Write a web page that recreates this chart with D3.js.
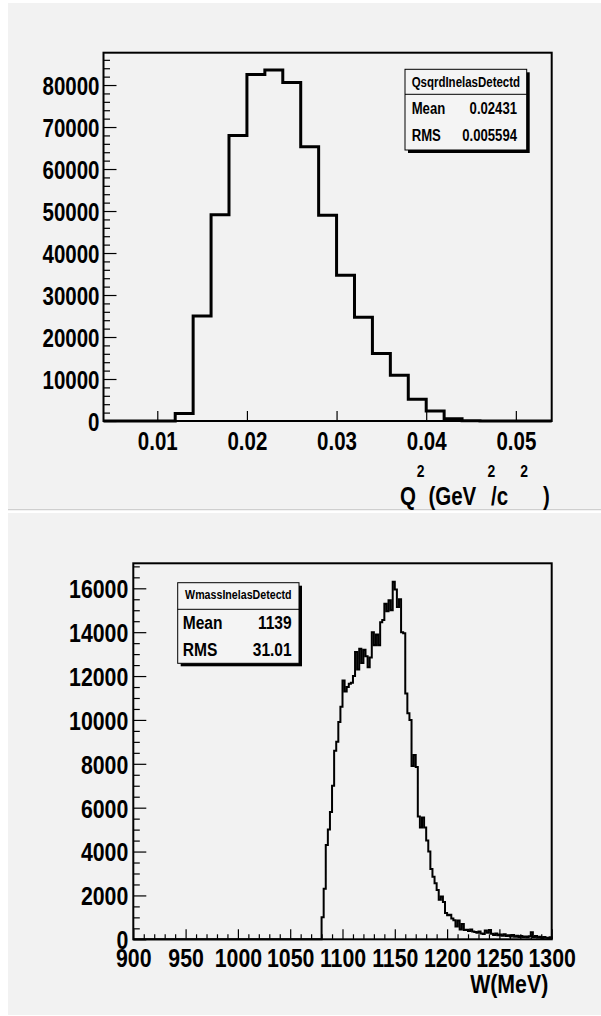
<!DOCTYPE html>
<html>
<head>
<meta charset="utf-8">
<script src="https://cdn.jsdelivr.net/npm/d3@7"></script>
<style>
  html, body { margin: 0; padding: 0; background: #ffffff; }
  svg { display: block; }
  text { font-family: "Liberation Sans", Arial, Helvetica, sans-serif; font-weight: bold; fill: #000; }
</style>
</head>
<body>
<svg id="canvas" width="601" height="1016"></svg>
<script>
// ---------- Q^2 of detected inelastic events (25 bins over the range) ----------
const qsqRange = [0.004, 0.054];
const qsqCounts = [0, 0, 0, 0, 1800, 25000, 49100, 68000, 82500, 83600, 80600, 65300,
                   49000, 34700, 24700, 16100, 10900, 5200, 2400, 560, 80, 0, 0, 0, 0];
const qsqXTicks = [0.01, 0.02, 0.03, 0.04, 0.05];
const qsqYTicks = [0, 10000, 20000, 30000, 40000, 50000, 60000, 70000, 80000];
const qsqYMax = 87700;
const qsqStatLabels = ["Mean", "RMS"];
const qsqStatValues = ["0.02431", "0.005594"];

// ---------- invariant mass W of detected inelastic events (2 MeV bins) ----------
const wRange = [900, 1300];
const wBinWidth = 2;
const wFirstBin = 1080;   // bins below this edge are empty
const wCounts = [
  1000, 2300, 4300, 5000, 5800, 7000, 8600, 9000, 9900, 10600,
  11800, 11300, 11500, 11650, 11700, 12000, 13100, 12300, 13250, 12600,
  13200, 12900, 12400, 12850, 14000, 13400, 13900, 13400, 14450, 14550,
  15300, 14950, 15450, 15000, 16300, 15950, 15150, 15500, 14000, 13950,
  11200, 10300, 10000, 7900, 8400, 7850, 5600, 5100, 5550, 5100,
  4500, 4000, 3200, 2850, 2550, 2250, 1800, 1950, 1700, 1200,
  1100, 1120, 950, 870, 580, 860, 450, 700, 420, 430,
  380, 450, 350, 330, 300, 350, 260, 240, 400, 300,
  420, 250, 200, 270, 190, 220, 160, 230, 150, 180,
  130, 200, 120, 160, 110, 150, 100, 130, 90, 140,
  320, 110, 150, 80, 120, 60, 110, 70, 50, 90
];
const wXTicks = [900, 950, 1000, 1050, 1100, 1150, 1200, 1250, 1300];
const wYTicks = [0, 2000, 4000, 6000, 8000, 10000, 12000, 14000, 16000];
const wYMax = 17140;
const wStatLabels = ["Mean", "RMS"];
const wStatValues = ["1139", "31.01"];

const svg = d3.select("#canvas");
const SX = 0.82;   // narrow bold face

// pad backgrounds
svg.append("rect").attr("x", 8).attr("y", 3).attr("width", 593).attr("height", 505).attr("fill", "#f2f2f2");
svg.append("line").attr("x1", 8).attr("x2", 601).attr("y1", 509.5).attr("y2", 509.5).attr("stroke", "#cfcfcf").attr("stroke-width", 1.5);
svg.append("rect").attr("x", 8).attr("y", 513).attr("width", 593).attr("height", 502).attr("fill", "#f2f2f2");

function label(g, x, y, str, size, anchor, sx) {
  return g.append("text")
    .attr("transform", `translate(${x},${y}) scale(${sx || SX},1)`)
    .attr("text-anchor", anchor || "start")
    .style("font-size", size + "px")
    .text(str);
}

function drawPanel(p) {
  const g = svg.append("g");
  const x = d3.scaleLinear().domain(p.xDomain).range([p.frame.x0, p.frame.x1]);
  const y = d3.scaleLinear().domain([0, p.yMax]).range([p.frame.y1, p.frame.y0]);

  // minor ticks (unlabelled)
  if (p.yMinor.length) {
    g.append("g").attr("transform", `translate(${p.frame.x0},0)`)
      .call(d3.axisLeft(y).tickValues(p.yMinor).tickSize(-6.5).tickFormat(""))
      .call(a => a.select(".domain").remove())
      .selectAll("line").attr("stroke", "#000").attr("stroke-width", 1.2);
  }
  if (p.xMinor.length) {
    g.append("g").attr("transform", `translate(0,${p.frame.y1})`)
      .call(d3.axisBottom(x).tickValues(p.xMinor).tickSize(-5).tickFormat(""))
      .call(a => a.select(".domain").remove())
      .selectAll("line").attr("stroke", "#000").attr("stroke-width", 1.2);
  }

  // major y ticks + labels
  const ya = g.append("g").attr("transform", `translate(${p.frame.x0},0)`)
    .call(d3.axisLeft(y).tickValues(p.yTicks).tickSize(-13).tickPadding(0).tickFormat(d3.format("d")));
  ya.select(".domain").remove();
  ya.selectAll(".tick line").attr("stroke", "#000").attr("stroke-width", 1.2);
  ya.selectAll(".tick text")
    .attr("x", null).attr("dy", null).attr("fill", "#000")
    .attr("text-anchor", "end")
    .attr("transform", `translate(${-p.yLabelGap},${p.labelSize * 0.36}) scale(${SX},1)`)
    .style("font-size", p.labelSize + "px");

  // major x ticks + labels
  const xa = g.append("g").attr("transform", `translate(0,${p.frame.y1})`)
    .call(d3.axisBottom(x).tickValues(p.xTicks).tickSize(-10).tickPadding(0).tickFormat(p.xFormat));
  xa.select(".domain").remove();
  xa.selectAll(".tick line").attr("stroke", "#000").attr("stroke-width", 1.2);
  xa.selectAll(".tick text")
    .attr("y", null).attr("dy", null).attr("fill", "#000")
    .attr("text-anchor", "middle")
    .attr("transform", `translate(0,${p.xLabelBase}) scale(${SX},1)`)
    .style("font-size", p.labelSize + "px");

  // frame
  g.append("rect")
    .attr("x", p.frame.x0).attr("y", p.frame.y0)
    .attr("width", p.frame.x1 - p.frame.x0).attr("height", p.frame.y1 - p.frame.y0)
    .attr("fill", "none").attr("stroke", "#000").attr("stroke-width", 2);

  // histogram outline: empty range along the baseline, then one step per bin
  const pts = [[p.xDomain[0], 0], [p.firstEdge, 0]];
  p.counts.forEach((c, i) => {
    const lo = p.firstEdge + i * p.binWidth;
    pts.push([lo, c], [lo + p.binWidth, c]);
  });
  pts.push([p.firstEdge + p.counts.length * p.binWidth, 0], [p.xDomain[1], 0]);
  g.append("path")
    .datum(pts)
    .attr("d", d3.line().x(d => x(d[0])).y(d => y(d[1])))
    .attr("fill", "none").attr("stroke", "#000")
    .attr("stroke-width", p.lineWidth).attr("stroke-linejoin", "miter");

  // statistics box
  const b = p.box;
  g.append("rect").attr("x", b.x0 + 3).attr("y", b.y0 + 3)
    .attr("width", b.x1 - b.x0).attr("height", b.y1 - b.y0).attr("fill", "#000");
  g.append("rect").attr("x", b.x0).attr("y", b.y0)
    .attr("width", b.x1 - b.x0).attr("height", b.y1 - b.y0)
    .attr("fill", "#f4f4f4").attr("stroke", "#000").attr("stroke-width", 1);
  g.append("line").attr("x1", b.x0).attr("x2", b.x1).attr("y1", b.div).attr("y2", b.div)
    .attr("stroke", "#000").attr("stroke-width", 1);
  label(g, (b.x0 + b.x1) / 2, b.titleBase, p.name, b.titleSize, "middle");
  p.statLabels.forEach((s, i) => {
    label(g, b.x0 + b.padL, b.rowBase[i], s, b.rowSize, "start");
    label(g, b.x1 - b.padR, b.rowBase[i], p.statValues[i], b.rowSize, "end");
  });
  return g;
}

// ---------- upper pad: Q^2 ----------
const qsqPad = drawPanel({
  name: "QsqrdInelasDetectd",
  xDomain: qsqRange, yMax: qsqYMax,
  frame: { x0: 103.5, x1: 551.7, y0: 52.7, y1: 421 },
  counts: qsqCounts, firstEdge: qsqRange[0],
  binWidth: (qsqRange[1] - qsqRange[0]) / qsqCounts.length,
  xTicks: qsqXTicks, xMinor: [], xFormat: d3.format(".2f"),
  yTicks: qsqYTicks, yMinor: d3.range(2000, qsqYMax, 2000).filter(v => v % 10000 !== 0),
  labelSize: 25, yLabelGap: 4, xLabelBase: 29, lineWidth: 3,
  statLabels: qsqStatLabels, statValues: qsqStatValues,
  box: { x0: 405, x1: 526.7, y0: 69.3, y1: 150, div: 94.3, titleBase: 86.7, titleSize: 14,
         rowBase: [114.3, 140.7], rowSize: 16, padL: 6.7, padR: 9.7 }
});

// axis title  Q^2 (GeV^2/c^2)
label(qsqPad, 400, 505, "Q", 25, "start");
label(qsqPad, 420.5, 476.7, "2", 17, "middle");
label(qsqPad, 428.4, 505, "(GeV", 25, "start");
label(qsqPad, 491.3, 476.7, "2", 17, "middle");
label(qsqPad, 491, 505, "/c", 25, "start");
label(qsqPad, 524, 476.7, "2", 17, "middle");
label(qsqPad, 543, 505, ")", 25, "start");

// ---------- lower pad: W ----------
const wPad = drawPanel({
  name: "WmassInelasDetectd",
  xDomain: wRange, yMax: wYMax,
  frame: { x0: 133.3, x1: 551.7, y0: 563.3, y1: 939.3 },
  counts: wCounts, firstEdge: wFirstBin, binWidth: wBinWidth,
  xTicks: wXTicks, xMinor: d3.range(910, 1300, 10).filter(v => v % 50 !== 0), xFormat: d3.format("d"),
  yTicks: wYTicks, yMinor: d3.range(500, wYMax, 500).filter(v => v % 2000 !== 0),
  labelSize: 26, yLabelGap: 5, xLabelBase: 27.4, lineWidth: 2,
  statLabels: wStatLabels, statValues: wStatValues,
  box: { x0: 177.7, x1: 299, y0: 582.7, y1: 663.3, div: 609.3, titleBase: 599, titleSize: 13,
         rowBase: [629.3, 656], rowSize: 19, padL: 5, padR: 7.3 }
});

label(wPad, 548.3, 993, "W(MeV)", 26, "end");
</script>
</body>
</html>
